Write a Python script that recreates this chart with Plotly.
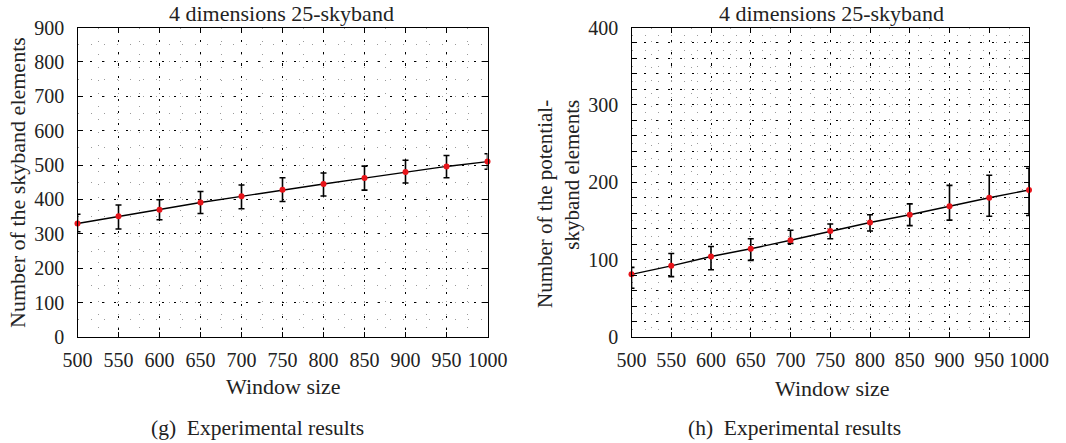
import plotly.graph_objects as go

# Window sizes (x axis shared by both panels)
window_size = [500, 550, 600, 650, 700, 750, 800, 850, 900, 950, 1000]

# (g) number of skyband elements: mean, upper and lower bounds
skyband_mean = [330, 351, 370, 391, 409, 428, 445, 462, 480, 496, 510]
skyband_high = [357, 384, 399, 423, 442, 463, 477, 497, 514, 528, 533]
skyband_low = [306, 314, 341, 359, 373, 394, 410, 427, 448, 463, 488]

# (h) number of potential-skyband elements: mean, upper and lower bounds
potential_mean = [81, 92, 104, 114, 125, 137, 148, 158, 169, 180, 190]
potential_high = [90, 108, 117, 127, 138, 146, 158, 172, 196, 209, 218]
potential_low = [63, 78, 87, 99, 121, 127, 137, 144, 151, 156, 157]

x_ticks = [500, 550, 600, 650, 700, 750, 800, 850, 900, 950, 1000]
y_ticks_left = [0, 100, 200, 300, 400, 500, 600, 700, 800, 900]
y_ticks_right = list(range(0, 401, 20))
y_labels_right = [str(v) if v % 100 == 0 else "" for v in y_ticks_right]

FONT = "Liberation Serif"
TXT = "#222222"
W, H = 1066, 443


def px_x(p):
    return p / W


def px_y(p):
    return 1 - p / H


def series(xa, ya, mean, high, low):
    plus = [h - m for h, m in zip(high, mean)]
    minus = [m - l for m, l in zip(mean, low)]
    return go.Scatter(
        x=window_size, y=mean, xaxis=xa, yaxis=ya,
        mode="lines+markers",
        line=dict(color="black", width=1.4),
        marker=dict(color="#e8141a", size=6),
        error_y=dict(type="data", symmetric=False, array=plus, arrayminus=minus,
                     color="black", thickness=1.6, width=3),
        showlegend=False, cliponaxis=False,
    )


fig = go.Figure()
fig.add_trace(series("x", "y", skyband_mean, skyband_high, skyband_low))
fig.add_trace(series("x2", "y2", potential_mean, potential_high, potential_low))

major_dash = "2px,10px"
minor_dash = "1px,12px"

def xaxis(domain, anchor):
    return dict(
        domain=domain, anchor=anchor, range=[500, 1000],
        tickvals=x_ticks, ticktext=[str(v) for v in x_ticks],
        ticks="inside", ticklen=5, tickcolor="black", mirror="ticks",
        showline=True, linecolor="black", linewidth=1.3,
        showgrid=True, gridcolor="black", gridwidth=1.2, griddash=major_dash,
        minor=dict(dtick=25, tick0=500, showgrid=True, gridcolor="#9a9a9a",
                   gridwidth=1, griddash=minor_dash, ticks=""),
        tickfont=dict(family=FONT, size=20, color=TXT), zeroline=False,
        ticklabelstandoff=5, fixedrange=True, automargin=False,
    )


def yaxis(domain, anchor, rng, vals, labels, minor_step):
    return dict(
        domain=domain, anchor=anchor, range=rng,
        tickvals=vals, ticktext=labels,
        ticks="inside", ticklen=5, tickcolor="black", mirror="ticks",
        showline=True, linecolor="black", linewidth=1.3,
        showgrid=True, gridcolor="black", gridwidth=1.2, griddash=major_dash,
        minor=dict(dtick=minor_step, tick0=0, showgrid=True, gridcolor="#9a9a9a",
                   gridwidth=1, griddash=minor_dash, ticks=""),
        tickfont=dict(family=FONT, size=20, color=TXT), zeroline=False,
        ticklabelstandoff=8, fixedrange=True, automargin=False,
    )


ydom = [px_y(337), px_y(27.5)]
fig.update_layout(
    width=W, height=H,
    margin=dict(l=0, r=0, t=0, b=0, pad=0, autoexpand=False),
    paper_bgcolor="white", plot_bgcolor="white",
    xaxis=xaxis([px_x(77.5), px_x(487.5)], "y"),
    yaxis=yaxis(ydom, "x", [0, 900], y_ticks_left,
                [str(v) for v in y_ticks_left], 50),
    xaxis2=xaxis([px_x(631.5), px_x(1029)], "y2"),
    yaxis2=yaxis(ydom, "x2", [0, 400], y_ticks_right, y_labels_right, 10),
)


def note(text, x, y, angle=0, align="center", size=22, yanchor="middle"):
    fig.add_annotation(text=text, x=px_x(x), y=px_y(y), xref="paper", yref="paper",
                       showarrow=False, textangle=angle, align=align,
                       xanchor="center", yanchor=yanchor, borderpad=0,
                       font=dict(family=FONT, size=size, color=TXT))


note("4 dimensions 25-skyband", 281, 0, yanchor="top")
note("4 dimensions 25-skyband", 831, 0, yanchor="top")
note("Window size", 283, 386)
note("Window size", 832, 388)
note("(g)  Experimental results", 257, 428, size=21.5)
note("(h)  Experimental results", 794, 428, size=21.5)
note("Number of the skyband elements", 17, 183, angle=-90)
note("Number of the potential-<br>skyband elements", 558, 204, angle=-90, align="right", size=21)

fig.write_html("out.html")
